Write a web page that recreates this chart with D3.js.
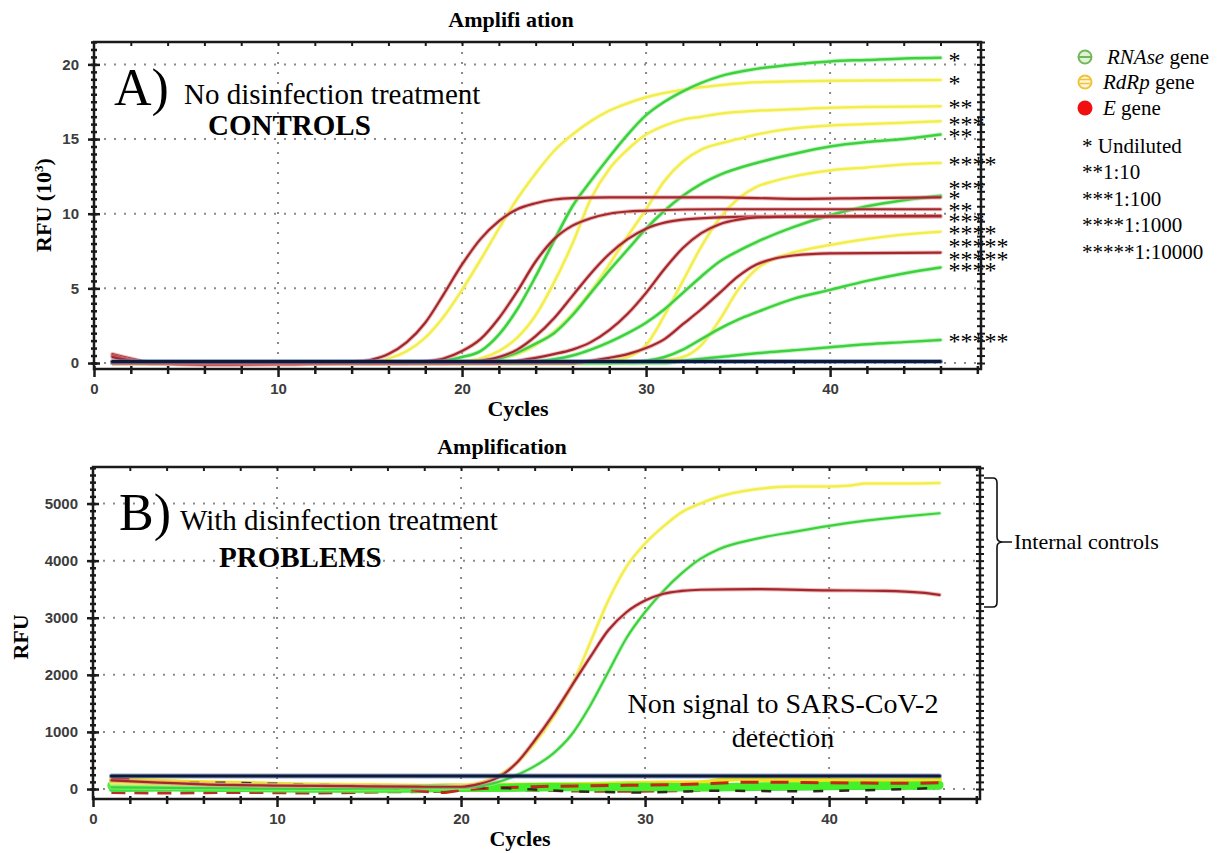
<!DOCTYPE html>
<html>
<head>
<meta charset="utf-8">
<script src="https://cdn.jsdelivr.net/npm/d3@7"></script>
<style>
  body { margin: 0; background: #fff; }
  svg { display: block; }
</style>
</head>
<body>
<svg id="chart" width="1223" height="853"></svg>
<script>
// ---- data (top panel values are RFU x 10^3, bottom panel raw RFU) ----
var cycleMajor = [0, 10, 20, 30, 40];
var rfuTopMajor = [0, 5, 10, 15, 20];
var rfuBottomMajor = [0, 1000, 2000, 3000, 4000, 5000];

// A) controls, [cycle, RFU]
var greenA = [[1,0],[18,0],[19,0.15],[20,0.4],[21,0.8],[22,1.9],[23,3.6],[24,5.8],[25,8.2],[26,10.5],[27,12.2],[28,13.8],[29,15.3],[30,16.6],[31,17.5],[32,18.2],[34,19.2],[36,19.7],[38,20.0],[40,20.2],[42,20.3],[44,20.4],[46,20.45]];
var greenB = [[1,0],[20,0],[21,0.1],[22,0.3],[23,0.7],[24,1.3],[25,2.0],[26,3.2],[27,4.7],[28,6.2],[29,7.6],[30,9.0],[31,10.2],[32,11.2],[33,12.0],[34,12.6],[36,13.4],[38,14.0],[40,14.5],[42,14.8],[44,15.0],[46,15.3]];
var greenC = [[1,0],[23,0],[24,0.1],[25,0.25],[26,0.5],[27,0.9],[28,1.4],[29,2.0],[30,2.7],[31,3.6],[32,4.7],[33,5.8],[34,6.8],[35,7.5],[36,8.1],[38,9.1],[40,9.9],[42,10.5],[44,10.9],[46,11.2]];
var greenD = [[1,0],[28,0],[29,0.05],[30,0.15],[31,0.4],[32,0.9],[33,1.6],[34,2.3],[35,2.9],[36,3.4],[38,4.3],[40,4.9],[42,5.5],[44,6.0],[46,6.4]];
var greenE = [[1,0],[31,0],[32,0.15],[34,0.4],[36,0.65],[38,0.85],[40,1.05],[42,1.25],[44,1.4],[46,1.55]];

var yellowA = [[1,0],[15,0],[16,0.3],[17,0.8],[18,1.7],[19,3.1],[20,4.9],[21,6.9],[22,9.0],[23,11.0],[24,12.7],[25,14.2],[26,15.3],[27,16.2],[28,16.9],[29,17.4],[30,17.8],[32,18.3],[34,18.6],[36,18.8],[40,18.9],[46,18.95]];
var yellowB = [[1,0],[19,0],[20,0.1],[21,0.3],[22,0.8],[23,1.7],[24,3.2],[25,5.4],[26,8.0],[27,11.0],[28,13.0],[29,14.3],[30,15.3],[31,15.9],[32,16.3],[33,16.5],[34,16.7],[36,16.9],[38,17.0],[40,17.1],[46,17.2]];
var yellowC = [[1,0],[20,0],[21,0.1],[22,0.3],[23,0.6],[24,1.2],[25,2.1],[26,3.3],[27,4.8],[28,6.6],[29,8.5],[30,10.3],[31,12.2],[32,13.5],[33,14.3],[34,14.7],[35,15.0],[36,15.3],[38,15.7],[40,15.9],[42,16.0],[44,16.1],[46,16.2]];
var yellowD = [[1,0],[27,0],[28,0.15],[29,0.4],[30,1.2],[31,3.2],[32,5.5],[33,7.8],[34,9.7],[35,11.0],[36,11.8],[37,12.2],[38,12.5],[40,12.9],[42,13.1],[44,13.3],[46,13.4]];
var yellowE = [[1,0],[29,0],[30,0.1],[31,0.2],[32,0.4],[33,1.2],[34,2.9],[35,4.9],[36,6.3],[37,7.0],[38,7.4],[40,7.9],[42,8.3],[44,8.6],[46,8.8]];

var redA = [[1,0.6],[2,0.3],[3,0.05],[6,-0.12],[10,-0.1],[13,0],[14,0.05],[15,0.2],[16,0.6],[17,1.4],[18,2.7],[19,4.6],[20,6.6],[21,8.3],[22,9.5],[23,10.3],[24,10.7],[25,10.95],[26,11.05],[28,11.1],[34,11.1],[38,11.0],[42,11.05],[46,11.1]];
var redB = [[1,0.5],[2,0.2],[3,0],[17,0],[18,0.1],[19,0.3],[20,0.8],[21,1.6],[22,3.0],[23,4.8],[24,6.8],[25,8.3],[26,9.2],[27,9.7],[28,10.0],[29,10.15],[30,10.2],[34,10.3],[46,10.3]];
var redC = [[1,0.4],[2,0.15],[3,0],[19,0],[20,0.05],[21,0.15],[22,0.4],[23,0.9],[24,1.8],[25,3.0],[26,4.5],[27,6.0],[28,7.3],[29,8.3],[30,9.0],[31,9.4],[32,9.6],[34,9.75],[36,9.8],[46,9.8]];
var redD = [[1,0],[22,0],[23,0.15],[24,0.35],[25,0.6],[26,0.9],[27,1.4],[28,2.2],[29,3.3],[30,4.7],[31,6.3],[32,7.7],[33,8.7],[34,9.3],[35,9.6],[36,9.75],[38,9.8],[46,9.85]];
var redE = [[1,0],[26,0],[27,0.15],[28,0.35],[29,0.6],[30,1.0],[31,1.6],[32,2.6],[33,3.6],[34,4.7],[35,5.8],[36,6.6],[37,7.0],[38,7.2],[40,7.35],[46,7.4]];

var thresholdTop = [[1,0.1],[46,0.1]];

// dilution marks at the right end of the curves
var starText = ['*','*','**','***','**','****','***','*','**','***','****','*****','*****','****','*****'];
var starValue = [20.49,18.98,17.37,16.25,15.40,13.53,11.91,11.30,10.50,9.72,8.96,8.05,7.22,6.44,1.72];

// B) treated sample, internal controls only
var bYellow = [[1,100],[4,90],[8,70],[12,60],[16,50],[19,40],[20,60],[21,110],[22,230],[23,450],[24,800],[25,1250],[26,1800],[27,2550],[28,3300],[29,3900],[30,4300],[31,4600],[32,4850],[33,5000],[34,5120],[36,5250],[38,5300],[40,5300],[41,5310],[42,5350],[44,5350],[46,5360]];
var bGreen = [[1,30],[4,20],[8,10],[12,0],[16,10],[20,20],[21,50],[22,120],[23,240],[24,400],[25,620],[26,950],[27,1450],[28,2050],[29,2650],[30,3100],[31,3470],[32,3780],[33,4030],[34,4200],[36,4380],[38,4500],[40,4610],[42,4700],[44,4770],[46,4830]];
var bRed = [[1,150],[3,120],[6,80],[10,60],[14,50],[18,40],[20,40],[21,90],[22,200],[23,450],[24,850],[25,1300],[26,1800],[27,2300],[28,2780],[29,3100],[30,3300],[31,3420],[32,3470],[33,3490],[36,3500],[40,3480],[43,3470],[45,3440],[46,3400]];
var thresholdBottom = [[1,230],[46,230]];

// flat, non-amplifying traces near zero
var noiseGreen1 = [[1,60],[3,50],[5,40],[7,30],[9,30],[11,20],[13,20],[15,10],[17,10],[19,20],[21,20],[23,30],[25,40],[27,30],[29,40],[31,40],[33,30],[35,40],[37,50],[39,50],[41,60],[43,60],[46,70]];
var noiseGreen2 = [[1,-10],[4,0],[8,-10],[12,-20],[16,-20],[20,-10],[24,0],[28,10],[32,0],[36,10],[40,20],[44,30],[46,30]];
var noiseYellow = [[1,160],[3,140],[6,110],[9,90],[12,70],[15,60],[18,50],[21,60],[24,70],[27,80],[30,100],[33,110],[35,180],[37,160],[40,150],[43,140],[46,160]];
var noiseRed1 = [[1,-60],[4,-70],[8,-60],[12,-70],[16,-50],[19,-40],[21,0],[24,-20],[28,-40],[32,-30],[36,10],[40,30],[44,60],[46,80]];
var noiseRed2 = [[1,180],[2,160],[3,100],[5,90],[8,70],[12,40],[16,20],[19,-60],[20,-20],[24,40],[28,60],[32,80],[36,120],[40,110],[44,100],[46,110]];
var noiseBlack = [[1,110],[4,100],[7,110],[10,90],[14,60],[18,40],[22,20],[26,-40],[30,-60],[34,-30],[38,-40],[42,-20],[46,20]];

var legendGenes = ['RNAse', 'RdRp', 'E'];
var dilutionLabels = ['* Undiluted', '**1:10', '***1:100', '****1:1000', '*****1:10000'];

// ---- colours ----
var col = {
	green:  { core: '#3fd03f', halo: '#9ff09f' },
	yellow: { core: '#f3ee50', halo: '#fbf8a8' },
	red:    { core: '#a3282d', halo: '#e08a8a' }
};

var svg = d3.select('#chart');
var serif = '"Liberation Serif", "Times New Roman", serif';
var sans = '"Liberation Sans", Arial, sans-serif';

function panel(opts)
{
	var g = svg.append('g');
	var x = d3.scaleLinear().domain([0, 48.2]).range([opts.left, opts.right]);
	var y = d3.scaleLinear().domain(opts.yDomain).range([opts.bottom, opts.top]);

	var clipId = 'clip' + opts.id;
	svg.append('clipPath').attr('id', clipId)
		.append('rect')
		.attr('x', opts.left).attr('y', opts.top)
		.attr('width', opts.right - opts.left).attr('height', opts.bottom - opts.top);

	// dotted grid
	var grid = g.append('g').attr('stroke', '#8a8a8a').attr('stroke-width', 2).attr('stroke-dasharray', '2,8');
	grid.selectAll('.hg').data(opts.yMajor).enter().append('line')
		.attr('x1', opts.left).attr('x2', opts.right)
		.attr('y1', function (d) { return y(d); }).attr('y2', function (d) { return y(d); });
	grid.selectAll('.vg').data(cycleMajor.slice(1)).enter().append('line')
		.attr('y1', opts.top).attr('y2', opts.bottom)
		.attr('x1', function (d) { return x(d); }).attr('x2', function (d) { return x(d); });

	var plot = g.append('g').attr('clip-path', 'url(#' + clipId + ')');

	return { g: g, plot: plot, x: x, y: y, opts: opts };
}

function frame(p)
{
	var o = p.opts, x = p.x, y = p.y, g = p.g;
	var xMinor = d3.range(2, 48.1, 2);

	// bottom axis
	var bMaj = g.append('g').attr('transform', 'translate(0,' + o.bottom + ')')
		.call(d3.axisBottom(x).tickValues(cycleMajor).tickSize(8).tickPadding(6));
	bMaj.selectAll('.tick line').attr('y1', -3).attr('stroke', '#1a1a1a').attr('stroke-width', 2.5);
	bMaj.selectAll('.tick text').attr('font-family', sans).attr('font-size', 15).attr('font-weight', 'bold').attr('fill', '#3c3c3c');
	var bMin = g.append('g').attr('transform', 'translate(0,' + o.bottom + ')')
		.call(d3.axisBottom(x).tickValues(xMinor.filter(function (d) { return d % 10 !== 0; })).tickSize(5).tickFormat(''));
	bMin.selectAll('.tick line').attr('y1', -3).attr('stroke', '#1a1a1a').attr('stroke-width', 2.5);

	// top edge
	var tMin = g.append('g').attr('transform', 'translate(0,' + o.top + ')')
		.call(d3.axisTop(x).tickValues(xMinor).tickSizeInner(-4).tickSizeOuter(0).tickFormat(''));
	tMin.selectAll('.tick line').attr('stroke', '#1a1a1a').attr('stroke-width', 2);

	// left axis
	var lMaj = g.append('g').attr('transform', 'translate(' + o.left + ',0)')
		.call(d3.axisLeft(y).tickValues(o.yMajor).tickSize(6).tickPadding(9).tickFormat(d3.format('d')));
	lMaj.selectAll('.tick line').attr('x1', 6).attr('stroke', '#1a1a1a').attr('stroke-width', 2.5);
	lMaj.selectAll('.tick text').attr('font-family', sans).attr('font-size', 15).attr('font-weight', 'bold').attr('fill', '#3c3c3c');
	var lMin = g.append('g').attr('transform', 'translate(' + o.left + ',0)')
		.call(d3.axisLeft(y).tickValues(o.yMinor).tickSize(3).tickFormat(''));
	lMin.selectAll('.tick line').attr('x1', 3).attr('stroke', '#1a1a1a').attr('stroke-width', 2.5);

	// right edge
	var rMin = g.append('g').attr('transform', 'translate(' + o.right + ',0)')
		.call(d3.axisRight(y).tickValues(o.yMinor).tickSize(4).tickFormat(''));
	rMin.selectAll('.tick line').attr('x1', -4).attr('stroke', '#1a1a1a').attr('stroke-width', 2);

	g.selectAll('.domain').remove();

	g.append('rect')
		.attr('x', o.left).attr('y', o.top)
		.attr('width', o.right - o.left).attr('height', o.bottom - o.top)
		.attr('fill', 'none').attr('stroke', '#1a1a1a').attr('stroke-width', 2.5);
}

function trace(p, pts, c, w, dash)
{
	var line = d3.line()
		.x(function (d) { return p.x(d[0]); })
		.y(function (d) { return p.y(d[1]); })
		.curve(d3.curveMonotoneX);
	if (c.halo)
	{
		p.plot.append('path').attr('d', line(pts)).attr('fill', 'none')
			.attr('stroke', c.halo).attr('stroke-width', w + 2).attr('opacity', 0.6)
			.attr('stroke-linecap', 'round');
	}
	p.plot.append('path').attr('d', line(pts)).attr('fill', 'none')
		.attr('stroke', c.core).attr('stroke-width', w)
		.attr('stroke-dasharray', dash || null)
		.attr('stroke-linecap', dash ? 'butt' : 'round');
}

// ================= panel A =================
var pa = panel({
	id: 'A', left: 94, right: 981, top: 42, bottom: 369,
	yDomain: [-0.4, 21.5], yMajor: rfuTopMajor, yMinor: d3.range(0, 21.51, 0.5)
});

[yellowA, yellowB, yellowC, yellowD, yellowE].forEach(function (s) { trace(pa, s, col.yellow, 2.5); });
[greenA, greenB, greenC, greenD, greenE].forEach(function (s) { trace(pa, s, col.green, 2.5); });
[redA, redB, redC, redD, redE].forEach(function (s) { trace(pa, s, col.red, 2.2); });
trace(pa, thresholdTop, { core: '#0f1a36', halo: '#5a78b8' }, 3);

pa.g.selectAll('.star').data(starText).enter().append('text')
	.attr('x', pa.x(46) + 8)
	.attr('y', function (d, i) { return pa.y(starValue[i]); })
	.attr('dy', '0.47em')
	.attr('font-family', serif).attr('font-size', 24).attr('fill', '#000')
	.text(function (d) { return d; });

frame(pa);

svg.append('text').attr('x', 511).attr('y', 27).attr('text-anchor', 'middle')
	.attr('font-family', serif).attr('font-weight', 'bold').attr('font-size', 22)
	.text('Amplifi ation');
svg.append('text').attr('x', 518).attr('y', 416).attr('text-anchor', 'middle')
	.attr('font-family', serif).attr('font-weight', 'bold').attr('font-size', 22)
	.text('Cycles');
var rfuA = svg.append('text').attr('transform', 'translate(51,205) rotate(-90)').attr('text-anchor', 'middle')
	.attr('font-family', serif).attr('font-weight', 'bold').attr('font-size', 22);
rfuA.append('tspan').text('RFU (10');
rfuA.append('tspan').attr('font-size', 13).attr('dy', -8).text('3');
rfuA.append('tspan').attr('dy', 8).text(')');

svg.append('text').attr('x', 114).attr('y', 105)
	.attr('font-family', serif).attr('font-size', 52).text('A)');
svg.append('text').attr('x', 184).attr('y', 104)
	.attr('font-family', serif).attr('font-size', 29).text('No disinfection treatment');
svg.append('text').attr('x', 208).attr('y', 135)
	.attr('font-family', serif).attr('font-weight', 'bold').attr('font-size', 29).text('CONTROLS');

// ================= panel B =================
var pb = panel({
	id: 'B', left: 93, right: 980, top: 467, bottom: 799,
	yDomain: [-175, 5640], yMajor: rfuBottomMajor, yMinor: d3.range(0, 5640, 125)
});

trace(pb, noiseRed1, { core: '#b8302a' }, 3, '14,9');
trace(pb, noiseGreen2, { core: '#3fe03f' }, 5);
trace(pb, noiseYellow, { core: '#f2e21a' }, 5);
trace(pb, noiseGreen1, { core: '#44f02a' }, 8);
trace(pb, noiseRed2, { core: '#c0281e' }, 3, '18,12');
trace(pb, noiseBlack, { core: '#2a2a1a' }, 2.5, '10,16');
trace(pb, bYellow, col.yellow, 2.5);
trace(pb, bGreen, col.green, 2.2);
trace(pb, bRed, col.red, 2.2);
trace(pb, thresholdBottom, { core: '#0f1a36', halo: '#4a6ab0' }, 3);

frame(pb);

svg.append('text').attr('x', 502).attr('y', 454).attr('text-anchor', 'middle')
	.attr('font-family', serif).attr('font-weight', 'bold').attr('font-size', 22)
	.text('Amplification');
svg.append('text').attr('x', 520).attr('y', 846).attr('text-anchor', 'middle')
	.attr('font-family', serif).attr('font-weight', 'bold').attr('font-size', 22)
	.text('Cycles');
svg.append('text').attr('transform', 'translate(28,637) rotate(-90)').attr('text-anchor', 'middle')
	.attr('font-family', serif).attr('font-weight', 'bold').attr('font-size', 22)
	.text('RFU');

svg.append('text').attr('x', 119).attr('y', 530)
	.attr('font-family', serif).attr('font-size', 52).text('B)');
svg.append('text').attr('x', 180).attr('y', 530)
	.attr('font-family', serif).attr('font-size', 29).text('With disinfection treatment');
svg.append('text').attr('x', 219).attr('y', 567)
	.attr('font-family', serif).attr('font-weight', 'bold').attr('font-size', 29).text('PROBLEMS');

svg.append('text').attr('x', 783).attr('y', 713).attr('text-anchor', 'middle')
	.attr('font-family', serif).attr('font-size', 28).text('Non signal to SARS-CoV-2');
svg.append('text').attr('x', 783).attr('y', 747).attr('text-anchor', 'middle')
	.attr('font-family', serif).attr('font-size', 28).text('detection');

// brace for the internal controls
svg.append('path')
	.attr('d', 'M984,478 L993,478 Q997,478 997,483 L997,537 Q997,542 1003,542 L1012,542 M1003,542 Q997,542 997,547 L997,602 Q997,607 993,607 L984,607')
	.attr('fill', 'none').attr('stroke', '#111').attr('stroke-width', 1.6);
svg.append('text').attr('x', 1014).attr('y', 549)
	.attr('font-family', serif).attr('font-size', 22).text('Internal controls');

// ================= legend =================
var legendY = [57, 82, 108];
var lg = svg.append('g');
legendGenes.forEach(function (name, i)
{
	var cy = legendY[i];
	if (i === 0)
	{
		lg.append('circle').attr('cx', 1085).attr('cy', cy).attr('r', 6.5)
			.attr('fill', '#e2f2d8').attr('stroke', '#72b85a').attr('stroke-width', 2);
		lg.append('line').attr('x1', 1079).attr('x2', 1091).attr('y1', cy).attr('y2', cy)
			.attr('stroke', '#72b85a').attr('stroke-width', 2);
	}
	else if (i === 1)
	{
		lg.append('circle').attr('cx', 1085).attr('cy', cy).attr('r', 6.5)
			.attr('fill', '#fff6d6').attr('stroke', '#f0c23a').attr('stroke-width', 2);
		[-2.5, 1.5].forEach(function (o)
		{
			lg.append('line').attr('x1', 1080).attr('x2', 1090).attr('y1', cy + o).attr('y2', cy + o)
				.attr('stroke', '#f0c23a').attr('stroke-width', 1.5);
		});
	}
	else
	{
		lg.append('circle').attr('cx', 1085).attr('cy', cy).attr('r', 7.5).attr('fill', '#f01010');
	}
	var t = lg.append('text').attr('x', i === 0 ? 1107 : 1103).attr('y', cy + 6.5)
		.attr('font-family', serif).attr('font-size', 21);
	t.append('tspan').attr('font-style', 'italic').text(name);
	t.append('tspan').text(' gene');
});

lg.selectAll('.dil').data(dilutionLabels).enter().append('text')
	.attr('x', 1082)
	.attr('y', function (d, i) { return 153 + i * 26.4; })
	.attr('font-family', serif).attr('font-size', 21)
	.text(function (d) { return d; });
</script>
</body>
</html>
